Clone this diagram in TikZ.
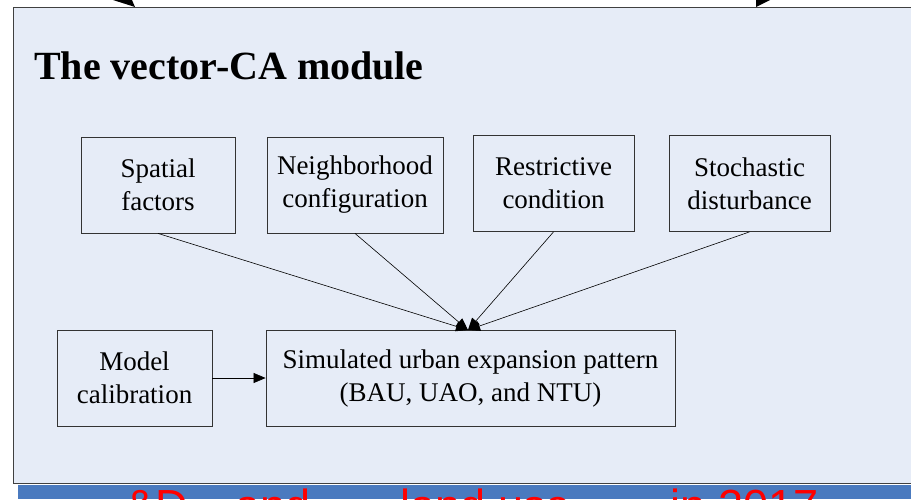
\documentclass[tikz,border=0pt]{standalone}
\usepackage{fontspec}
\setmainfont{Liberation Serif}
\newfontfamily\barfont{Liberation Sans}
\usetikzlibrary{arrows.meta}
\definecolor{panelfill}{HTML}{E6ECF7}
\definecolor{panelline}{HTML}{404040}
\definecolor{barblue}{HTML}{4A7ABF}
\definecolor{boxline}{HTML}{333333}
\tikzset{
  box/.style={draw=boxline, line width=0.8pt, align=center, inner sep=0pt,
    font=\fontsize{27}{33}\selectfont},
  conn/.style={draw=black, line width=0.6pt, -{Triangle[length=12pt,width=10pt]}},
}
\begin{document}
\begin{tikzpicture}[x=1pt,y=-1pt]
\useasboundingbox (0,0) rectangle (911,499);
\begin{scope}
\clip (0,0) rectangle (911,499);
% bottom bar
\fill[barblue] (18,485) rectangle (911,499);
\node[anchor=base west, text=red, font=\barfont\fontsize{45}{50}\selectfont, inner sep=0pt] (bartext) at (125,521) {\&D\hspace{48pt}and\hspace{90pt}land use\hspace{100pt}in 2017};
% panel
\draw[panelline, fill=panelfill, line width=0.8pt] (913,7) -- (13,7) -- (13,483) -- (913,483);
% top arrow tips
\fill[black] (113,0) -- (132,0) -- (135,7) -- cycle;
\fill[black] (756,0) -- (770,0) -- (756,7) -- cycle;
\end{scope}
% title
\node[anchor=base west, inner sep=0pt, font=\bfseries\fontsize{40}{48}\selectfont] (title) at (34,79) {The vector-CA module};
% boxes
\node[box, minimum width=154pt, minimum height=96pt] (sf) at (158,185) {Spatial\\factors};
\node[box, minimum width=176pt, minimum height=96pt] (nc) at (355,185) {Neighborhood\\configuration};
\node[box, minimum width=161pt, minimum height=96pt] (rc) at (553.5,183.5) {Restrictive\\condition};
\node[box, minimum width=161pt, minimum height=96pt] (sd) at (749.5,183.5) {Stochastic\\disturbance};
\node[box, minimum width=155pt, minimum height=96pt] (mc) at (134.5,378) {Model\\calibration};
\node[box, minimum width=409pt, minimum height=96pt] (sim) at (470.5,378) {Simulated urban expansion pattern\\(BAU, UAO, and NTU)};
\coordinate (tgt) at (468,330);
\draw[conn] (sf.south) -- (tgt);
\draw[conn] (nc.south) -- (tgt);
\draw[conn] (rc.south) -- (tgt);
\draw[conn] (sd.south) -- (tgt);
\draw[conn] (mc.east) -- (sim.west);
\end{tikzpicture}
\end{document}
